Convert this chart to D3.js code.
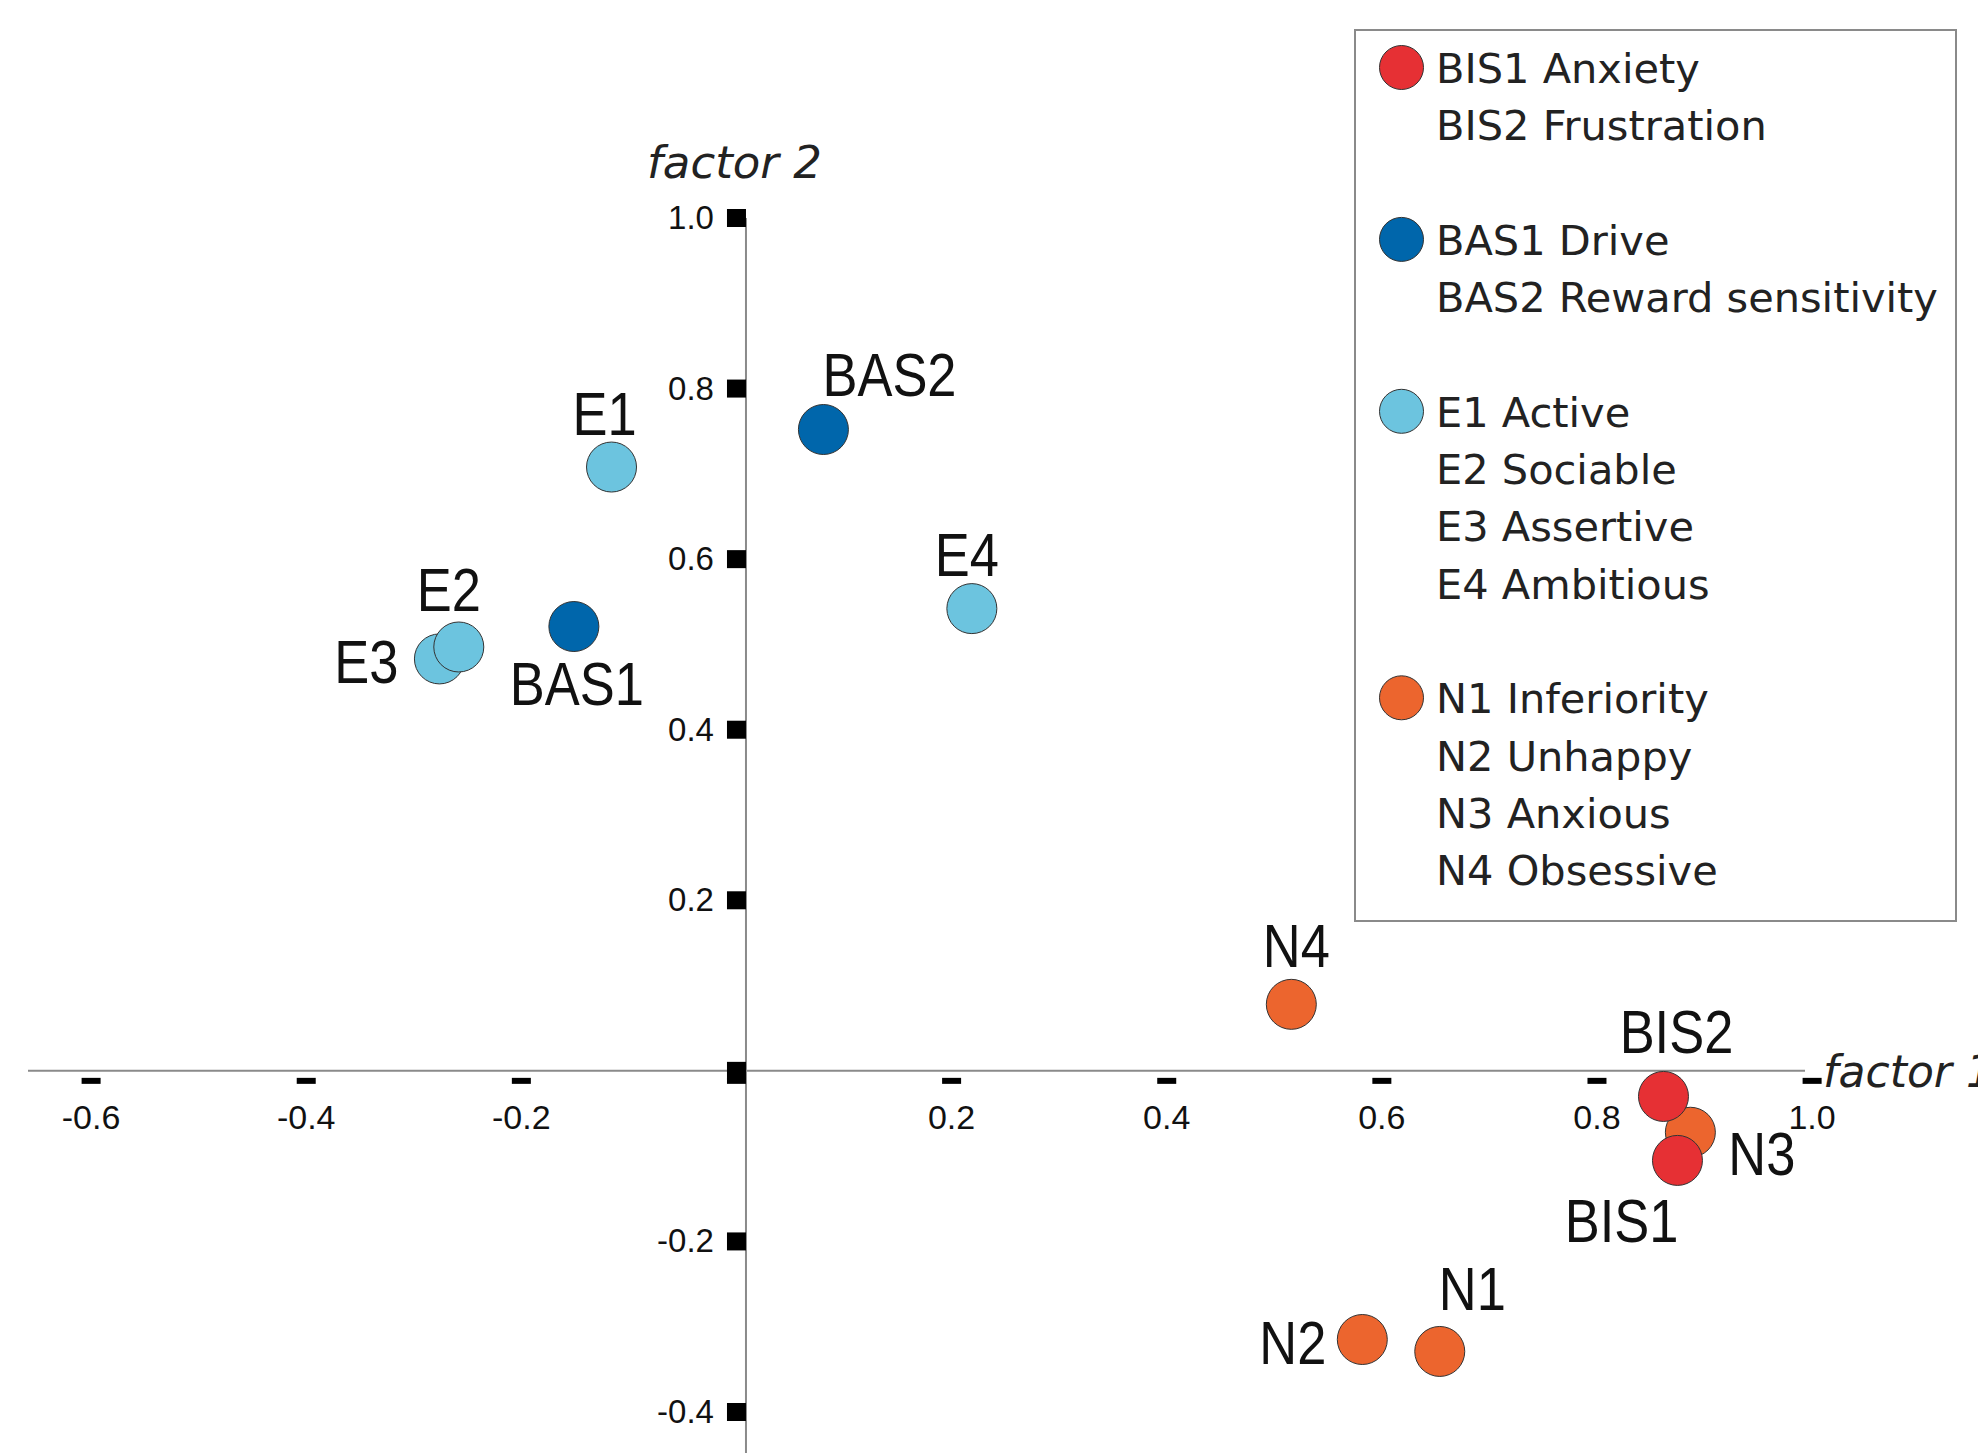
<!DOCTYPE html>
<html>
<head>
<meta charset="utf-8">
<script src="https://cdn.jsdelivr.net/npm/d3@7"></script>
<style>
  html, body { margin: 0; padding: 0; background: #fff; }
  svg { display: block; }
</style>
</head>
<body>
<svg id="chart" width="1978" height="1453"></svg>
<script>
// ---------- DATA ----------
// draw order matters (later points on top)
const names   = ["N1", "N2", "N3", "N4", "E1", "E3", "E2", "E4", "BAS1", "BAS2", "BIS1", "BIS2"];
const groups  = ["N",  "N",  "N",  "N",  "E",  "E",  "E",  "E",  "BAS",  "BAS",  "BIS",  "BIS"];
const factor1 = [0.645, 0.573, 0.878, 0.507, -0.125, -0.285, -0.267, 0.210, -0.160, 0.072, 0.866, 0.853];
const factor2 = [-0.329, -0.315, -0.072, 0.078, 0.708, 0.483, 0.497, 0.542, 0.521, 0.752, -0.105, -0.030];

const xTicks      = [-0.6, -0.4, -0.2, 0, 0.2, 0.4, 0.6, 0.8, 1.0];
const xTickLabels = ["-0.6", "-0.4", "-0.2", "", "0.2", "0.4", "0.6", "0.8", "1.0"];
const yTicks      = [1.0, 0.8, 0.6, 0.4, 0.2, 0, -0.2, -0.4];
const yTickLabels = ["1.0", "0.8", "0.6", "0.4", "0.2", "", "-0.2", "-0.4"];

const legendBIS = ["BIS1 Anxiety", "BIS2 Frustration"];
const legendBAS = ["BAS1 Drive", "BAS2 Reward sensitivity"];
const legendE   = ["E1 Active", "E2 Sociable", "E3 Assertive", "E4 Ambitious"];
const legendN   = ["N1 Inferiority", "N2 Unhappy", "N3 Anxious", "N4 Obsessive"];

const xTitle = "factor 1";
const yTitle = "factor 2";

// ---------- STYLE / LAYOUT ----------
const colors = { BIS: "#e63034", BAS: "#0066ab", E: "#6cc4df", N: "#ec652e" };

const labelLayout = {
  E1:   { anchor: "middle", dx: -7,  dy: -32 },
  BAS2: { anchor: "start",  dx: -1,  dy: -34 },
  E4:   { anchor: "middle", dx: -5,  dy: -33 },
  E2:   { anchor: "middle", dx: -10, dy: -36 },
  E3:   { anchor: "end",    dx: -41, dy: 24 },
  BAS1: { anchor: "middle", dx: 3,   dy: 78 },
  N4:   { anchor: "middle", dx: 5,   dy: -37 },
  BIS2: { anchor: "middle", dx: 13,  dy: -43 },
  N3:   { anchor: "start",  dx: 38,  dy: 43 },
  BIS1: { anchor: "end",    dx: 1,   dy: 82 },
  N1:   { anchor: "start",  dx: -1,  dy: -41 },
  N2:   { anchor: "end",    dx: -36, dy: 24 }
};

const svg = d3.select("#chart");
svg.append("rect").attr("width", 1978).attr("height", 1453).attr("fill", "#fff");

const x = d3.scaleLinear().domain([-0.6, 1.0]).range([100.6, 1821.6]);
const y = d3.scaleLinear().domain([-0.4, 1.0]).range([1412, 218]);

const axisColor = "#8a8a8a";
const tickFont = "'Liberation Sans', Arial, sans-serif";

// horizontal axis line
svg.append("line")
  .attr("x1", 28).attr("x2", 1805)
  .attr("y1", y(0)).attr("y2", y(0))
  .attr("stroke", axisColor).attr("stroke-width", 2);

// vertical axis line
svg.append("line")
  .attr("x1", x(0)).attr("x2", x(0))
  .attr("y1", y(1.0)).attr("y2", 1453)
  .attr("stroke", axisColor).attr("stroke-width", 2);

// x tick dashes and labels
const xt = svg.append("g");
xt.selectAll("rect").data(xTicks).join("rect")
  .attr("x", d => x(d) - 19).attr("y", y(0) + 7)
  .attr("width", 19).attr("height", 6)
  .attr("fill", "#000");
xt.selectAll("text").data(xTicks).join("text")
  .attr("x", d => x(d) - 9.5).attr("y", 1129)
  .attr("text-anchor", "middle")
  .attr("font-family", tickFont).attr("font-size", 34).attr("fill", "#111")
  .text((d, i) => xTickLabels[i]);

// y tick squares and labels
const yt = svg.append("g");
yt.selectAll("rect").data(yTicks).join("rect")
  .attr("x", x(0) - 19).attr("y", d => y(d) - 9)
  .attr("width", 19).attr("height", 18)
  .attr("fill", "#000");
yt.selectAll("text").data(yTicks).join("text")
  .attr("x", x(0) - 32).attr("y", d => y(d) + 11)
  .attr("text-anchor", "end")
  .attr("font-family", tickFont).attr("font-size", 33).attr("fill", "#111")
  .text((d, i) => yTickLabels[i]);

// axis titles
const titleFont = "'DejaVu Sans', sans-serif";
svg.append("text")
  .attr("x", 1823).attr("y", 1087)
  .attr("font-family", titleFont).attr("font-style", "italic")
  .attr("font-size", 44).attr("fill", "#222")
  .text(xTitle);
svg.append("text")
  .attr("x", 647).attr("y", 178)
  .attr("font-family", titleFont).attr("font-style", "italic")
  .attr("font-size", 45).attr("fill", "#222")
  .text(yTitle);

// points
const pts = names.map((n, i) => ({ name: n, group: groups[i], fx: factor1[i], fy: factor2[i] }));
svg.append("g").selectAll("circle").data(pts).join("circle")
  .attr("cx", d => x(d.fx)).attr("cy", d => y(d.fy))
  .attr("r", 25)
  .attr("fill", d => colors[d.group])
  .attr("stroke", "#333").attr("stroke-width", 1);

// point labels (horizontally condensed)
svg.append("g").selectAll("text").data(pts).join("text")
  .attr("transform", d => {
    const L = labelLayout[d.name];
    return `translate(${x(d.fx) + L.dx},${y(d.fy) + L.dy}) scale(0.86,1)`;
  })
  .attr("text-anchor", d => labelLayout[d.name].anchor)
  .attr("font-family", tickFont).attr("font-size", 61).attr("fill", "#111")
  .text(d => d.name);

// legend
const legend = svg.append("g");
legend.append("rect")
  .attr("x", 1355).attr("y", 30).attr("width", 601).attr("height", 891)
  .attr("fill", "#fff").attr("stroke", "#8a8a8a").attr("stroke-width", 2);

const legendGroups = [
  { key: "BIS", lines: legendBIS },
  { key: "BAS", lines: legendBAS },
  { key: "E",   lines: legendE },
  { key: "N",   lines: legendN }
];
const lineStep = 57.3;
let row = 0;
legendGroups.forEach(g => {
  const base = 83 + row * lineStep;
  legend.append("circle")
    .attr("cx", 1401.5).attr("cy", base - 15.5).attr("r", 22)
    .attr("fill", colors[g.key]).attr("stroke", "#333").attr("stroke-width", 1);
  g.lines.forEach((t, j) => {
    legend.append("text")
      .attr("x", 1436).attr("y", base + j * lineStep)
      .attr("font-family", titleFont).attr("font-size", 41.5).attr("fill", "#222")
      .text(t);
  });
  row += g.lines.length + 1;
});
</script>
</body>
</html>
